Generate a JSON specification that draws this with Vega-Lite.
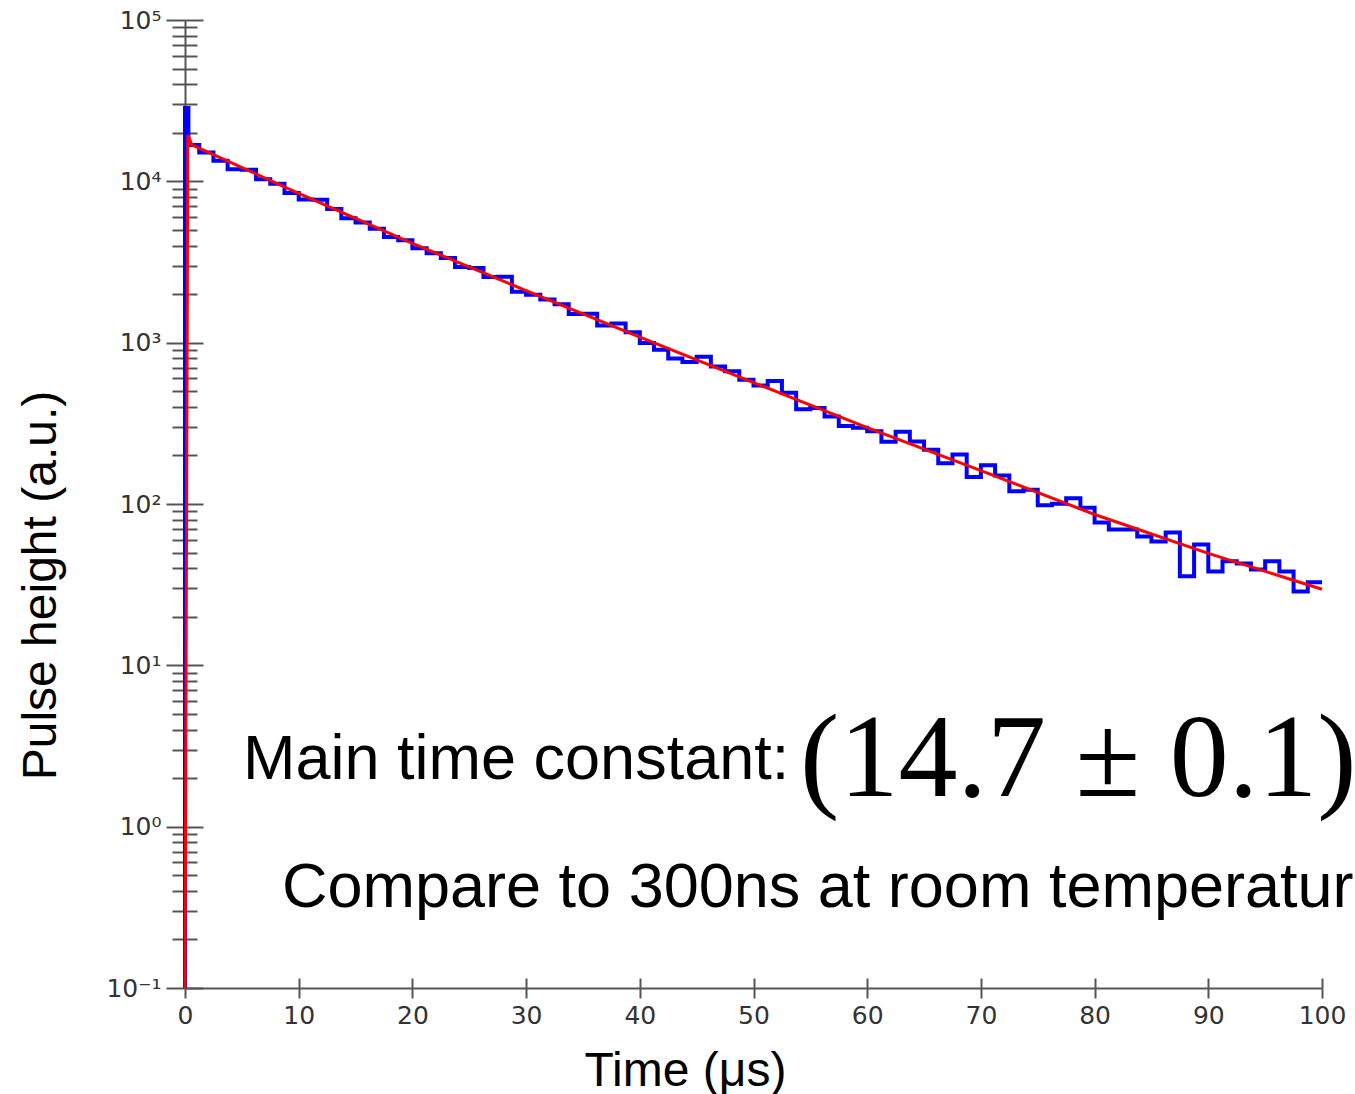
{
  "$schema": "https://vega.github.io/schema/vega-lite/v6.json",
  "width": 1137,
  "height": 968,
  "autosize": {"type": "none"},
  "padding": {"left": 185, "top": 20, "right": 33, "bottom": 106},
  "background": "white",
  "config": {
    "view": {"stroke": null},
    "axis": {"grid": false, "tickWidth": 2, "tickColor": "#555555", "domainColor": "#555555", "domainWidth": 2}
  },
  "datasets": {
    "hist": [
      {"i": 0, "t": 0, "v": 0.1},
      {"i": 1, "t": 0, "v": 28500},
      {"i": 2, "t": 0.3, "v": 16808},
      {"i": 3, "t": 1.25, "v": 15099},
      {"i": 4, "t": 2.5, "v": 13395},
      {"i": 5, "t": 3.75, "v": 11867},
      {"i": 6, "t": 5, "v": 11799},
      {"i": 7, "t": 6.25, "v": 10304},
      {"i": 8, "t": 7.5, "v": 9678},
      {"i": 9, "t": 8.75, "v": 8452},
      {"i": 10, "t": 10, "v": 7726},
      {"i": 11, "t": 11.25, "v": 7694},
      {"i": 12, "t": 12.5, "v": 6747},
      {"i": 13, "t": 13.75, "v": 5908},
      {"i": 14, "t": 15, "v": 5566},
      {"i": 15, "t": 16.25, "v": 5087},
      {"i": 16, "t": 17.5, "v": 4526},
      {"i": 17, "t": 18.75, "v": 4318},
      {"i": 18, "t": 20, "v": 3847},
      {"i": 19, "t": 21.25, "v": 3587},
      {"i": 20, "t": 22.5, "v": 3345},
      {"i": 21, "t": 23.75, "v": 2943},
      {"i": 22, "t": 25, "v": 2906},
      {"i": 23, "t": 26.25, "v": 2555},
      {"i": 24, "t": 27.5, "v": 2559},
      {"i": 25, "t": 28.75, "v": 2069},
      {"i": 26, "t": 30, "v": 1985},
      {"i": 27, "t": 31.25, "v": 1854},
      {"i": 28, "t": 32.5, "v": 1731},
      {"i": 29, "t": 33.75, "v": 1506},
      {"i": 30, "t": 35, "v": 1510},
      {"i": 31, "t": 36.25, "v": 1276},
      {"i": 32, "t": 37.5, "v": 1315},
      {"i": 33, "t": 38.75, "v": 1160},
      {"i": 34, "t": 40, "v": 995},
      {"i": 35, "t": 41.25, "v": 905},
      {"i": 36, "t": 42.5, "v": 799},
      {"i": 37, "t": 43.75, "v": 759},
      {"i": 38, "t": 45, "v": 818},
      {"i": 39, "t": 46.25, "v": 712},
      {"i": 40, "t": 47.5, "v": 666},
      {"i": 41, "t": 48.75, "v": 588},
      {"i": 42, "t": 50, "v": 543},
      {"i": 43, "t": 51.25, "v": 578},
      {"i": 44, "t": 52.5, "v": 490},
      {"i": 45, "t": 53.75, "v": 386},
      {"i": 46, "t": 55, "v": 394},
      {"i": 47, "t": 56.25, "v": 349},
      {"i": 48, "t": 57.5, "v": 304},
      {"i": 49, "t": 58.75, "v": 297},
      {"i": 50, "t": 60, "v": 282},
      {"i": 51, "t": 61.25, "v": 243},
      {"i": 52, "t": 62.5, "v": 280},
      {"i": 53, "t": 63.75, "v": 244},
      {"i": 54, "t": 65, "v": 217},
      {"i": 55, "t": 66.25, "v": 179},
      {"i": 56, "t": 67.5, "v": 203},
      {"i": 57, "t": 68.75, "v": 147},
      {"i": 58, "t": 70, "v": 174},
      {"i": 59, "t": 71.25, "v": 150},
      {"i": 60, "t": 72.5, "v": 120},
      {"i": 61, "t": 73.75, "v": 122.6},
      {"i": 62, "t": 75, "v": 98.2},
      {"i": 63, "t": 76.25, "v": 100.3},
      {"i": 64, "t": 77.5, "v": 108.5},
      {"i": 65, "t": 78.75, "v": 94.8},
      {"i": 66, "t": 80, "v": 76.8},
      {"i": 67, "t": 81.25, "v": 69.5},
      {"i": 68, "t": 82.5, "v": 69.5},
      {"i": 69, "t": 83.75, "v": 62.9},
      {"i": 70, "t": 85, "v": 58.6},
      {"i": 71, "t": 86.25, "v": 66.6},
      {"i": 72, "t": 87.5, "v": 35.6},
      {"i": 73, "t": 88.75, "v": 56.1},
      {"i": 74, "t": 90, "v": 38.2},
      {"i": 75, "t": 91.25, "v": 44.1},
      {"i": 76, "t": 92.5, "v": 42.8},
      {"i": 77, "t": 93.75, "v": 39.3},
      {"i": 78, "t": 95, "v": 44.1},
      {"i": 79, "t": 96.25, "v": 38.2},
      {"i": 80, "t": 97.5, "v": 28.7},
      {"i": 81, "t": 98.75, "v": 32.7},
      {"i": 82, "t": 100, "v": 32.7}
    ],
    "fit": [
      {"i": 0, "t": 0, "v": 0.1},
      {"i": 1, "t": 0.25, "v": 19400},
      {"i": 2, "t": 0.6, "v": 16827},
      {"i": 3, "t": 10, "v": 8428},
      {"i": 4, "t": 20, "v": 4131},
      {"i": 5, "t": 30, "v": 2099},
      {"i": 6, "t": 40, "v": 1082},
      {"i": 7, "t": 50, "v": 565.4},
      {"i": 8, "t": 60, "v": 297.7},
      {"i": 9, "t": 70, "v": 161.2},
      {"i": 10, "t": 80, "v": 86.1},
      {"i": 11, "t": 90, "v": 49.4},
      {"i": 12, "t": 100, "v": 29.6}
    ],
    "notes": [
      {"t": 5.1, "v": 1.97, "label": "Main time constant:"},
      {"t": 8.53, "v": 0.318, "label": "Compare to 300ns at room temperature"}
    ],
    "formula": [
      {"t": 54.1, "v": 1.545, "label": "(14.7 ± 0.1)"}
    ]
  },
  "layer": [
    {
      "data": {"name": "hist"},
      "mark": {"type": "line", "interpolate": "step-after", "color": "#0000ff", "strokeWidth": 4},
      "encoding": {
        "x": {
          "field": "t", "type": "quantitative",
          "scale": {"domain": [0, 100], "nice": false, "zero": false},
          "axis": {
            "orient": "bottom",
            "title": "Time (μs)",
            "values": [0, 10, 20, 30, 40, 50, 60, 70, 80, 90, 100],
            "tickSize": 10,
            "labelFont": "DejaVu Sans",
            "labelFontSize": 25,
            "labelColor": "#333333",
            "labelPadding": 5,
            "labelFlush": false,
            "titleFont": "Liberation Sans",
            "titleFontSize": 48,
            "titleFontWeight": "normal",
            "titleColor": "#000000",
            "titleX": 500,
            "titleY": 97,
            "titleAlign": "center",
            "titleBaseline": "alphabetic"
          }
        },
        "y": {
          "field": "v", "type": "quantitative",
          "scale": {"type": "log", "domain": [0.1, 100000], "nice": false},
          "axis": {
            "orient": "left",
            "title": "Pulse height (a.u.)",
            "values": [0.1, 1, 10, 100, 1000, 10000, 100000],
            "labelExpr": "round(log(datum.value)/LN10) < 0 ? '10⁻¹' : '10' + substring('⁰¹²³⁴⁵', round(log(datum.value)/LN10), round(log(datum.value)/LN10) + 1)",
            "tickSize": 19,
            "labelFont": "DejaVu Sans",
            "labelFontSize": 25,
            "labelColor": "#333333",
            "labelPadding": 5,
            "labelOverlap": false,
            "labelFlush": false,
            "titleFont": "Liberation Sans",
            "titleFontSize": 48,
            "titleFontWeight": "normal",
            "titleColor": "#000000",
            "titleAngle": -90,
            "titleX": -130,
            "titleY": 565,
            "titleAlign": "center",
            "titleBaseline": "alphabetic"
          }
        },
        "order": {"field": "i", "type": "quantitative"}
      }
    },
    {
      "data": {"name": "fit"},
      "mark": {"type": "line", "color": "#ff0000", "strokeWidth": 3},
      "encoding": {
        "x": {
          "field": "t", "type": "quantitative",
          "scale": {"domain": [0, 100], "nice": false, "zero": false},
          "axis": {"orient": "bottom", "title": null, "values": [0, 10, 20, 30, 40, 50, 60, 70, 80, 90, 100], "tickSize": -10, "labels": false, "domain": false}
        },
        "y": {
          "field": "v", "type": "quantitative",
          "scale": {"type": "log", "domain": [0.1, 100000], "nice": false},
          "axis": {"orient": "left", "title": null, "values": [0.1, 1, 10, 100, 1000, 10000, 100000], "tickSize": -18, "labels": false, "domain": false}
        },
        "order": {"field": "i", "type": "quantitative"}
      }
    },
    {
      "data": {"name": "notes"},
      "mark": {"type": "text", "align": "left", "baseline": "alphabetic", "font": "Liberation Sans", "fontSize": 63, "color": "#000000"},
      "encoding": {
        "x": {"field": "t", "type": "quantitative", "scale": {"domain": [0, 100], "nice": false, "zero": false}, "axis": null},
        "y": {
          "field": "v", "type": "quantitative",
          "scale": {"type": "log", "domain": [0.1, 100000], "nice": false},
          "axis": {"orient": "left", "title": null, "values": [0.2, 0.3, 0.4, 0.5, 0.6, 0.7, 0.8, 0.9, 2, 3, 4, 5, 6, 7, 8, 9, 20, 30, 40, 50, 60, 70, 80, 90, 200, 300, 400, 500, 600, 700, 800, 900, 2000, 3000, 4000, 5000, 6000, 7000, 8000, 9000, 20000, 30000, 40000, 50000, 60000, 70000, 80000, 90000], "tickSize": 13, "labels": false, "domain": false}
        },
        "text": {"field": "label", "type": "nominal"}
      }
    },
    {
      "data": {"name": "formula"},
      "mark": {"type": "text", "align": "left", "baseline": "alphabetic", "font": "Liberation Serif", "fontSize": 118, "color": "#000000"},
      "encoding": {
        "x": {"field": "t", "type": "quantitative", "scale": {"domain": [0, 100], "nice": false, "zero": false}, "axis": null},
        "y": {
          "field": "v", "type": "quantitative",
          "scale": {"type": "log", "domain": [0.1, 100000], "nice": false},
          "axis": {"orient": "left", "title": null, "values": [0.2, 0.3, 0.4, 0.5, 0.6, 0.7, 0.8, 0.9, 2, 3, 4, 5, 6, 7, 8, 9, 20, 30, 40, 50, 60, 70, 80, 90, 200, 300, 400, 500, 600, 700, 800, 900, 2000, 3000, 4000, 5000, 6000, 7000, 8000, 9000, 20000, 30000, 40000, 50000, 60000, 70000, 80000, 90000], "tickSize": -12, "labels": false, "domain": false}
        },
        "text": {"field": "label", "type": "nominal"}
      }
    }
  ],
  "resolve": {"axis": {"x": "independent", "y": "independent"}}
}
